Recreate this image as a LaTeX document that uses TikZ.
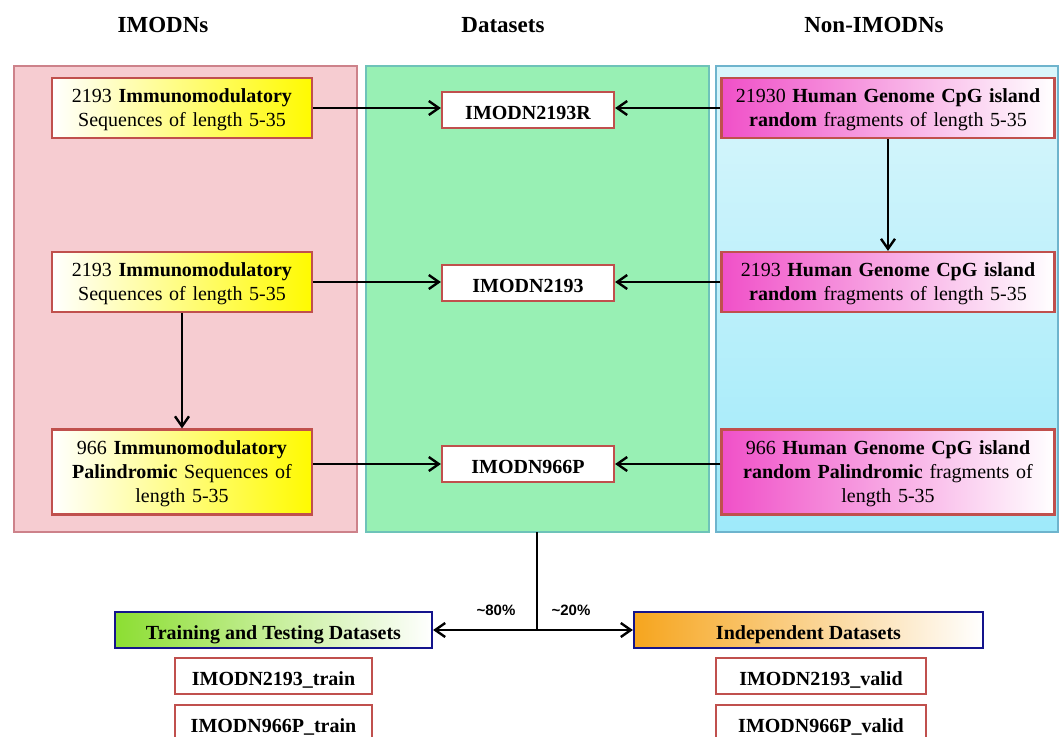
\documentclass[tikz,border=0pt]{standalone}
\usepackage{fontspec}
\setmainfont{Liberation Serif}
\newfontfamily\labelsans{Liberation Sans}
\usetikzlibrary{arrows.meta,shadings}
\definecolor{panelpink}{RGB}{246,204,209}
\definecolor{panelpinkline}{RGB}{205,130,138}
\definecolor{panelgreen}{RGB}{152,240,180}
\definecolor{panelgreenline}{RGB}{110,195,185}
\definecolor{cyantop}{RGB}{218,246,251}
\definecolor{cyanbot}{RGB}{158,234,250}
\definecolor{panelcyanline}{RGB}{110,180,205}
\definecolor{boxred}{RGB}{192,80,77}
\definecolor{boxyellow}{RGB}{255,250,0}
\definecolor{boxmagenta}{RGB}{240,80,200}
\definecolor{boxnavy}{RGB}{20,20,140}
\definecolor{boxgreen}{RGB}{140,222,50}
\definecolor{boxorange}{RGB}{246,165,30}
\tikzset{
  every node/.style={font=\fontsize{10}{12}\selectfont, inner sep=0pt},
  header/.style={font=\fontsize{11.5}{13}\selectfont\bfseries},
  panel/.style={line width=0.6pt},
  redbox/.style={draw=boxred, line width=1.1pt, align=center},
  multiline/.style={execute at begin node={\rule{0pt}{9pt}}},
  yellowbox/.style={redbox, multiline, left color=white, right color=boxyellow, minimum width=130pt, text width=126pt},
  magbox/.style={redbox, multiline, left color=boxmagenta, right color=white, minimum width=166.5pt, text width=162pt},
  oneline/.style={text height=9.5pt, text depth=0.5pt},
  dsbox/.style={redbox, oneline, fill=white, minimum width=86pt, minimum height=18pt, font=\fontsize{10}{12}\selectfont\bfseries},
  smallbox/.style={redbox, oneline, fill=white, minimum height=18pt, font=\fontsize{10}{12}\selectfont\bfseries},
  bluebox/.style={draw=boxnavy, oneline, line width=1.1pt, minimum height=18pt, font=\fontsize{10}{12}\selectfont\bfseries},
  conn/.style={line width=1.2pt, -{Straight Barb[length=5pt,width=7pt,line width=1.2pt]}},
  plain/.style={line width=1.2pt},
  pct/.style={font=\fontsize{7.5}{9}\selectfont\labelsans\bfseries}
}
\begin{document}
\begin{tikzpicture}[x=0.5pt,y=-0.5pt]
\useasboundingbox (0,0) rectangle (1062,736);
\clip (0,0) rectangle (1062,736);
\fill[white] (0,0) rectangle (1062,736);
% headers
\node[header] (hl) at (163,25) {IMODNs};
\node[header] (hm) at (503,25) {Datasets};
\node[header] (hr) at (874,25) {Non-IMODNs};
% panels
\draw[panel, draw=panelpinkline, fill=panelpink] (14,66) rectangle (357,532);
\draw[panel, draw=panelgreenline, fill=panelgreen] (366,66) rectangle (709,532);
\draw[panel, draw=panelcyanline, top color=cyantop, bottom color=cyanbot] (716,66) rectangle (1058,532);
% left boxes
\node[yellowbox, minimum height=30pt] (l1) at (182,108) {2193 \textbf{Immunomodulatory}\\Sequences of length 5-35};
\node[yellowbox, minimum height=30pt] (l2) at (182,282) {2193 \textbf{Immunomodulatory}\\Sequences of length 5-35};
\node[yellowbox, minimum height=42.5pt] (l3) at (182,472) {966 \textbf{Immunomodulatory}\\\textbf{Palindromic} Sequences of\\length 5-35};
% middle boxes
\node[dsbox] (m1) at (528,110) {IMODN2193R};
\node[dsbox] (m2) at (528,283) {IMODN2193};
\node[dsbox] (m3) at (528,464) {IMODN966P};
% right boxes
\node[magbox, minimum height=30pt] (r1) at (888,108) {21930 \textbf{Human Genome CpG island}\\\textbf{random} fragments of length 5-35};
\node[magbox, minimum height=30pt] (r2) at (888,282) {2193 \textbf{Human Genome CpG island}\\\textbf{random} fragments of length 5-35};
\node[magbox, minimum height=42.5pt] (r3) at (888,472) {966 \textbf{Human Genome CpG island}\\\textbf{random Palindromic} fragments of\\length 5-35};
% arrows in panels
\draw[conn] (l1.east) -- (l1.east -| m1.west);
\draw[conn] (r1.west) -- (r1.west -| m1.east);
\draw[conn] (r1.south) -- (r2.north);
\draw[conn] (l2.east) -- (l2.east -| m2.west);
\draw[conn] (r2.west) -- (r2.west -| m2.east);
\draw[conn] (l2.south) -- (l3.north);
\draw[conn] (l3.east |- m3.west) -- (m3.west);
\draw[conn] (r3.west |- m3.east) -- (m3.east);
% bottom
\coordinate (top) at (537,532);
\coordinate (split) at (537,630);
\node[bluebox, left color=boxgreen, right color=white, minimum width=158.5pt] (tr) at (273.5,630) {Training and Testing Datasets};
\node[bluebox, left color=boxorange, right color=white, minimum width=174.5pt] (ind) at (808.5,630) {Independent Datasets};
\draw[plain] (top) -- (split);
\draw[conn] (split) -- (tr.east);
\draw[conn] (split) -- (ind.west);
\node[pct] (p80) at (496,610) {\textasciitilde 80\%};
\node[pct] (p20) at (571,610) {\textasciitilde 20\%};
\node[smallbox, minimum width=98.5pt] (t1) at (273.5,676) {IMODN2193\_train};
\node[smallbox, minimum width=98.5pt] (t2) at (273.5,723) {IMODN966P\_train};
\node[smallbox, minimum width=105pt] (v1) at (821,676) {IMODN2193\_valid};
\node[smallbox, minimum width=105pt] (v2) at (821,723) {IMODN966P\_valid};
\end{tikzpicture}
\end{document}
